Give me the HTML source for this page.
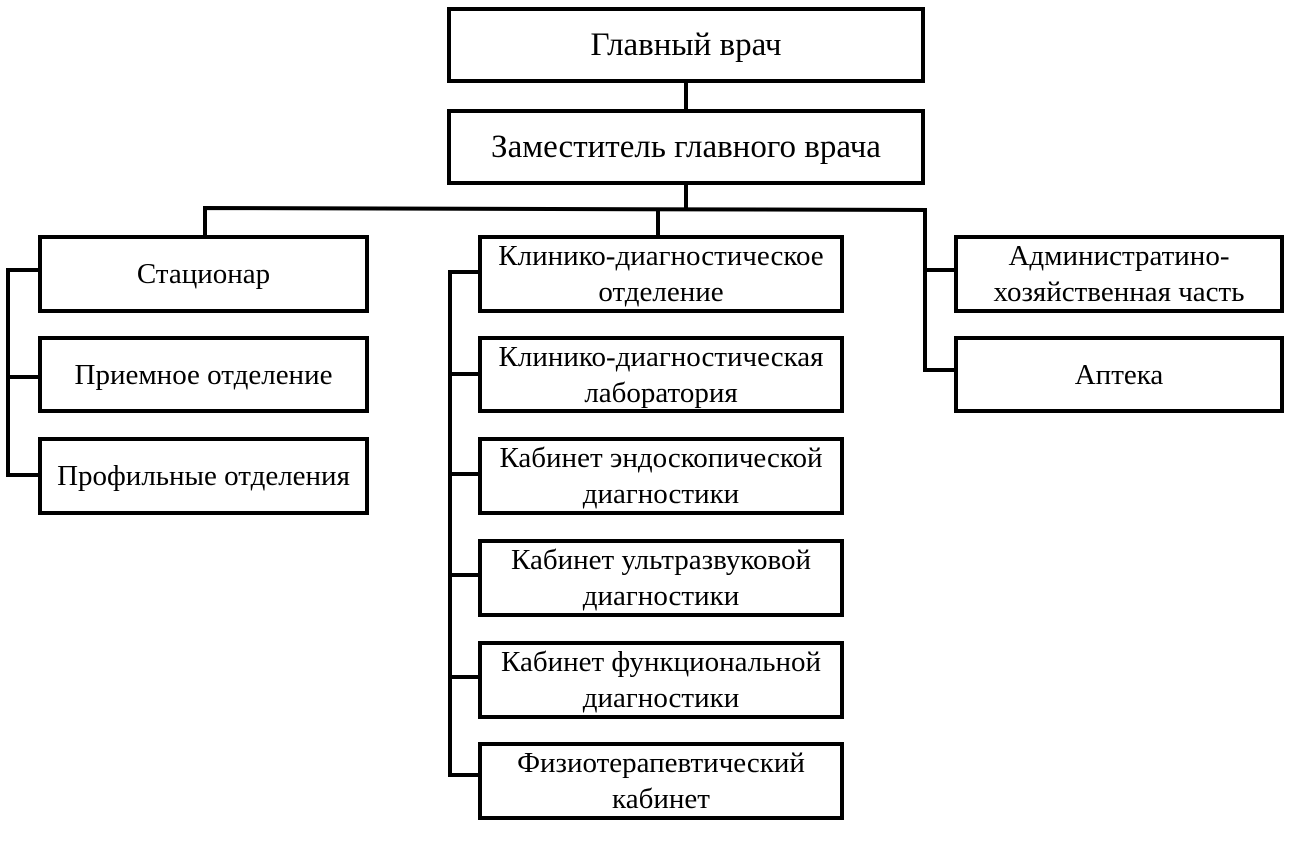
<!DOCTYPE html>
<html><head><meta charset="utf-8"><style>
html,body{margin:0;padding:0;background:#fff;}
body{position:relative;width:1297px;height:851px;overflow:hidden;}
svg{display:block;position:absolute;left:0;top:0;}
.t{position:absolute;font-family:"Liberation Serif","Times New Roman","DejaVu Serif",serif;font-size:29px;line-height:36px;color:#000;text-align:center;display:flex;align-items:center;justify-content:center;white-space:nowrap;}
.big{font-size:33px;}
</style></head><body>
<svg width="1297" height="851" viewBox="0 0 1297 851" xmlns="http://www.w3.org/2000/svg">
<g fill="none" stroke="#000" stroke-width="4">
<rect x="449" y="9" width="474" height="72"/>
<rect x="449" y="111" width="474" height="72"/>
<line x1="686" y1="81" x2="686" y2="111"/>
<line x1="686" y1="183" x2="686" y2="209"/>
<polyline points="205,235 205,208 925,210 925,370 956,370"/>
<line x1="925" y1="270" x2="956" y2="270"/>
<line x1="658" y1="209" x2="658" y2="236"/>
<rect x="40" y="237" width="327" height="74"/>
<rect x="40" y="338" width="327" height="73"/>
<rect x="40" y="439" width="327" height="74"/>
<polyline points="40,270 8,270 8,475 40,475"/>
<line x1="8" y1="377" x2="40" y2="377"/>
<rect x="480" y="237" width="362" height="74"/>
<rect x="480" y="338" width="362" height="73"/>
<rect x="480" y="439" width="362" height="74"/>
<rect x="480" y="541" width="362" height="74"/>
<rect x="480" y="643" width="362" height="74"/>
<rect x="480" y="744" width="362" height="74"/>
<polyline points="480,272 450,272 450,775 480,775"/>
<line x1="450" y1="374" x2="480" y2="374"/>
<line x1="450" y1="474" x2="480" y2="474"/>
<line x1="450" y1="575" x2="480" y2="575"/>
<line x1="450" y1="677" x2="480" y2="677"/>
<rect x="956" y="237" width="326" height="74"/>
<rect x="956" y="338" width="326" height="73"/>
</g>
</svg>
<div class="t big" style="left:449px;top:9px;width:474px;height:72px;">Главный врач</div>
<div class="t big" style="left:449px;top:111px;width:474px;height:72px;">Заместитель главного врача</div>
<div class="t" style="left:40px;top:237px;width:327px;height:74px;">Стационар</div>
<div class="t" style="left:40px;top:338px;width:327px;height:73px;">Приемное отделение</div>
<div class="t" style="left:40px;top:439px;width:327px;height:74px;">Профильные отделения</div>
<div class="t" style="left:480px;top:237px;width:362px;height:74px;">Клинико-диагностическое<br>отделение</div>
<div class="t" style="left:480px;top:338px;width:362px;height:73px;">Клинико-диагностическая<br>лаборатория</div>
<div class="t" style="left:480px;top:439px;width:362px;height:74px;">Кабинет эндоскопической<br>диагностики</div>
<div class="t" style="left:480px;top:541px;width:362px;height:74px;">Кабинет ультразвуковой<br>диагностики</div>
<div class="t" style="left:480px;top:643px;width:362px;height:74px;">Кабинет функциональной<br>диагностики</div>
<div class="t" style="left:480px;top:744px;width:362px;height:74px;">Физиотерапевтический<br>кабинет</div>
<div class="t" style="left:956px;top:237px;width:326px;height:74px;">Администратино-<br>хозяйственная часть</div>
<div class="t" style="left:956px;top:338px;width:326px;height:73px;">Аптека</div>
</body></html>
